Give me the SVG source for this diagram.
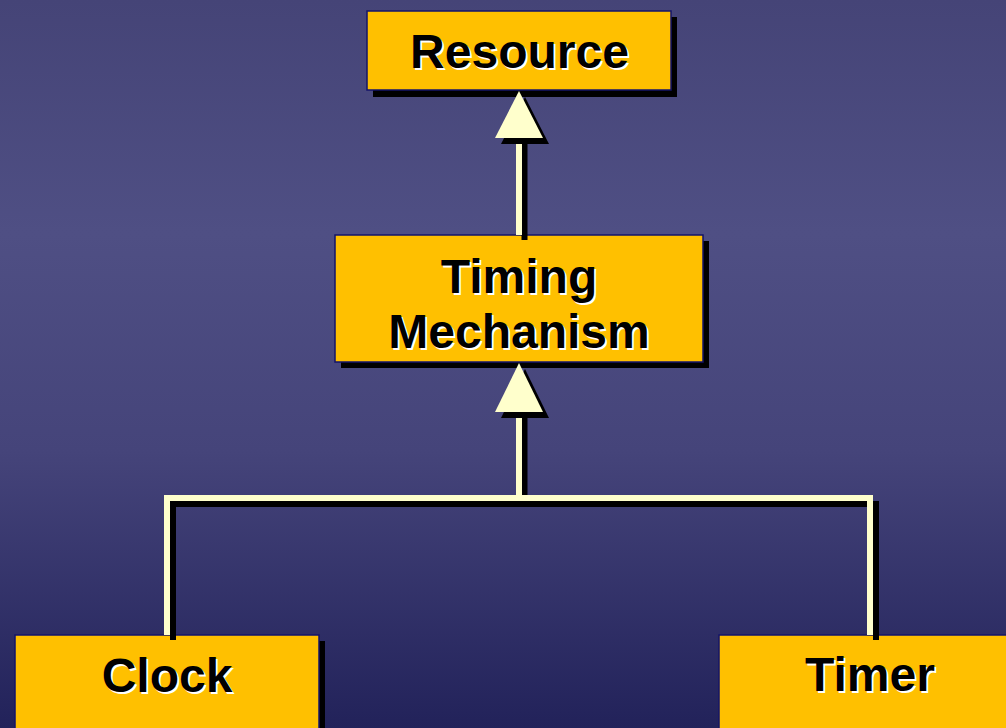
<svg xmlns="http://www.w3.org/2000/svg" width="1006" height="728" viewBox="0 0 1006 728">
  <defs>
    <linearGradient id="bg" x1="0" y1="0" x2="0" y2="1">
      <stop offset="0" stop-color="#454477"/>
      <stop offset="0.32" stop-color="#4f4f84"/>
      <stop offset="0.62" stop-color="#45447a"/>
      <stop offset="1" stop-color="#22225a"/>
    </linearGradient>
  </defs>
  <style>
    .box { fill: #ffc000; stroke: #14146a; stroke-width: 1.5; }
    .shadow { fill: #000; }
    .lbl { font-family: "Liberation Sans", Arial, sans-serif; font-weight: bold; font-size: 48px; text-anchor: middle; }
    .lbl-hi { fill: #fff; }
    .lbl-fg { fill: #000; }
    .wire { fill: none; stroke: #ffffcc; stroke-width: 6; stroke-linejoin: miter; stroke-linecap: butt; }
    .wire-sh { fill: none; stroke: #000; stroke-width: 6; stroke-linejoin: miter; stroke-linecap: butt; }
    .head { fill: #ffffcc; }
    .head-sh { fill: #000; }
  </style>

  <rect width="1006" height="728" fill="url(#bg)"/>

  <g id="resource">
    <rect class="shadow" x="373" y="17" width="304" height="80"/>
    <rect class="box" x="367" y="11" width="304" height="79"/>
    <text class="lbl lbl-hi" x="521.5" y="70">Resource</text>
    <text class="lbl lbl-fg" x="519.5" y="68">Resource</text>
  </g>

  <g id="timing-mechanism">
    <rect class="shadow" x="341" y="241" width="368" height="127"/>
    <rect class="box" x="335" y="235" width="368" height="127"/>
    <text class="lbl lbl-hi" x="521" y="295">Timing</text>
    <text class="lbl lbl-fg" x="519" y="293">Timing</text>
    <text class="lbl lbl-hi" x="521" y="350">Mechanism</text>
    <text class="lbl lbl-fg" x="519" y="348">Mechanism</text>
  </g>

  <g id="clock">
    <rect class="shadow" x="21" y="641" width="304" height="100"/>
    <rect class="box" x="15" y="635" width="304" height="100"/>
    <text class="lbl lbl-hi" x="169" y="694">Clock</text>
    <text class="lbl lbl-fg" x="167" y="692">Clock</text>
  </g>

  <g id="timer">
    <rect class="shadow" x="725" y="641" width="304" height="100"/>
    <rect class="box" x="719" y="635" width="304" height="100"/>
    <text class="lbl lbl-hi" x="872" y="693">Timer</text>
    <text class="lbl lbl-fg" x="870" y="691">Timer</text>
  </g>

  <!-- inheritance connectors, drawn over the node shadows -->
  <g id="connectors">
    <!-- Timing Mechanism -> Resource -->
    <line class="wire-sh" x1="524.5" y1="138" x2="524.5" y2="240"/>
    <line class="wire" x1="519" y1="136" x2="519" y2="235"/>
    <polygon class="head-sh" points="525,97 549,144 501,144"/>
    <polygon class="head" points="519,91 543,138 495,138"/>

    <!-- Clock / Timer -> Timing Mechanism -->
    <path class="wire-sh" d="M173,640 V504 H876 V640 M524.5,504 V412"/>
    <path class="wire" d="M167,635 V498 H870 V635 M519,498 V408"/>
    <polygon class="head-sh" points="525,369 549,418 501,418"/>
    <polygon class="head" points="519,363 543,412 495,412"/>
  </g>
</svg>
